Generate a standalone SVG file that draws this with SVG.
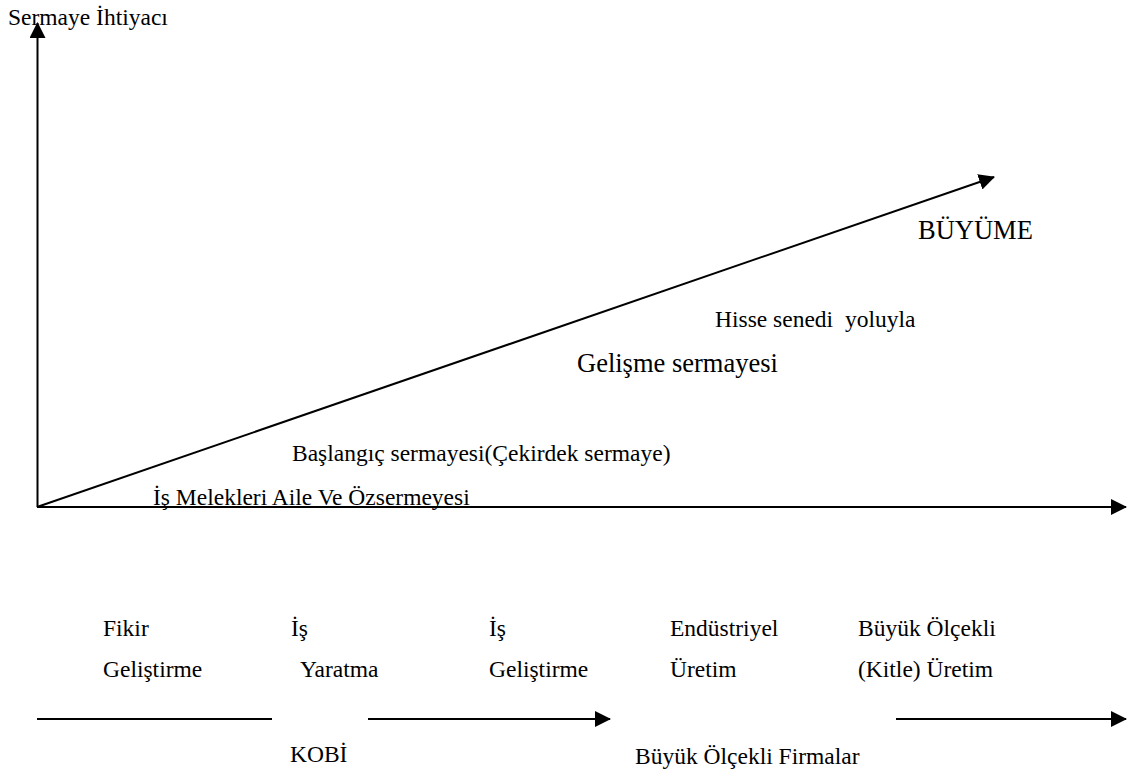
<svg xmlns="http://www.w3.org/2000/svg" width="1137" height="771" viewBox="0 0 1137 771">
<style>
text{font-family:"Liberation Serif","Times New Roman",serif;fill:#000;white-space:pre}
.s{font-size:23.5px}
.l{font-size:26.5px}
.ln{stroke:#000;stroke-width:2;fill:none}
</style>
<defs>
<marker id="ah" markerUnits="userSpaceOnUse" markerWidth="16" markerHeight="16" refX="15" refY="8" orient="auto" viewBox="0 0 16 16">
<path d="M0,0 L16,8 L0,16 z" fill="#000"/>
</marker>
</defs>
<rect width="1137" height="771" fill="#fff"/>
<g id="connectors">
<line class="ln" x1="37.5" y1="507" x2="37.5" y2="23" marker-end="url(#ah)"/>
<line class="ln" x1="37" y1="507" x2="1126" y2="507" marker-end="url(#ah)"/>
<line class="ln" x1="37" y1="507" x2="994" y2="177" marker-end="url(#ah)"/>
<line class="ln" x1="37" y1="719" x2="272" y2="719"/>
<line class="ln" x1="368" y1="719" x2="610" y2="719" marker-end="url(#ah)"/>
<line class="ln" x1="896" y1="719" x2="1126" y2="719" marker-end="url(#ah)"/>
</g>
<g id="axis-y-label"><text class="s" x="8" y="25">Sermaye İhtiyacı</text></g>
<g id="buyume"><text class="l" x="918" y="239">BÜYÜME</text></g>
<g id="hisse"><text class="s" x="715" y="327">Hisse senedi  yoluyla</text></g>
<g id="gelisme"><text class="l" x="577" y="372">Gelişme sermayesi</text></g>
<g id="baslangic"><text class="s" x="292" y="461">Başlangıç sermayesi(Çekirdek sermaye)</text></g>
<g id="melekler"><text class="s" x="153" y="505">İş Melekleri Aile Ve Özsermeyesi</text></g>
<g id="stage1"><text class="s" x="103" y="636">Fikir</text><text class="s" x="103" y="677">Geliştirme</text></g>
<g id="stage2"><text class="s" x="291" y="636">İş</text><text class="s" x="300" y="677">Yaratma</text></g>
<g id="stage3"><text class="s" x="489" y="636">İş</text><text class="s" x="489" y="677">Geliştirme</text></g>
<g id="stage4"><text class="s" x="670" y="636">Endüstriyel</text><text class="s" x="670" y="677">Üretim</text></g>
<g id="stage5"><text class="s" x="858" y="636">Büyük Ölçekli</text><text class="s" x="858" y="677">(Kitle) Üretim</text></g>
<g id="kobi"><text class="s" x="290" y="762">KOBİ</text></g>
<g id="buyuk-firmalar"><text class="s" x="635" y="764">Büyük Ölçekli Firmalar</text></g>
</svg>
